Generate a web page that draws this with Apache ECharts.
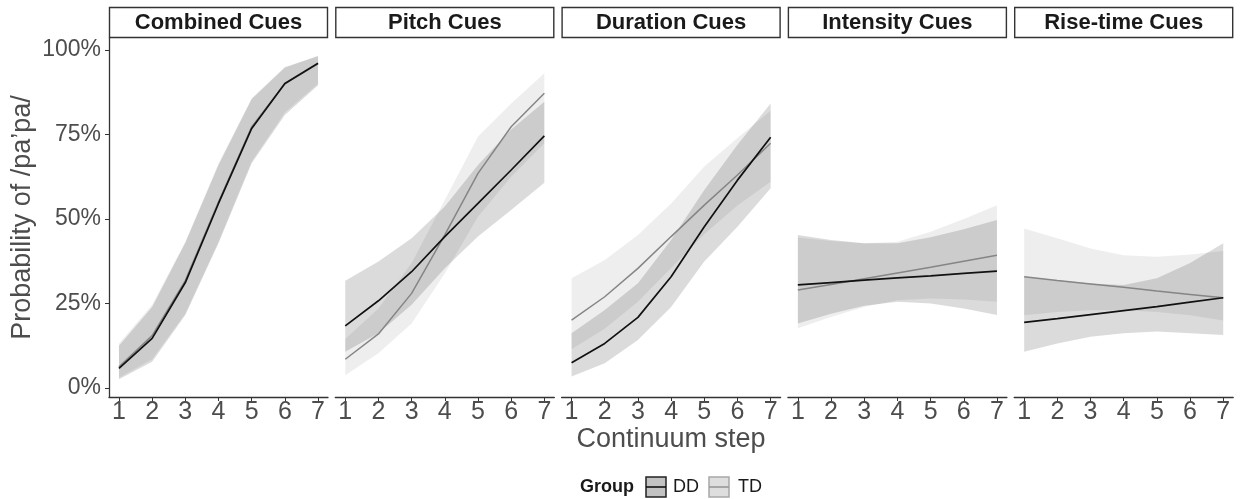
<!DOCTYPE html>
<html>
<head>
<meta charset="utf-8">
<script src="https://cdn.jsdelivr.net/npm/echarts@6/dist/echarts.min.js"></script>
<style>
html,body{margin:0;padding:0;background:#fff;}
#chart{width:1240px;height:499px;}
</style>
</head>
<body>
<div id="chart"></div>
<script>
// ---- data (values in %) ----
const steps = [1, 2, 3, 4, 5, 6, 7];
const panels = ['Combined Cues', 'Pitch Cues', 'Duration Cues', 'Intensity Cues', 'Rise-time Cues'];
const yTicks = [0, 25, 50, 75, 100];
const groups = ['DD', 'TD'];

// DD group: fitted line and ribbon bounds, one row per panel
const ddFit = [
  [5.8, 14.7, 31.2, 54.6, 76.8, 90.1, 96.1],
  [18.4, 25.8, 34.4, 44.8, 54.6, 64.5, 74.6],
  [7.5, 13.2, 20.9, 32.9, 47.7, 61.5, 74.2],
  [30.5, 31.2, 31.9, 32.6, 33.2, 33.9, 34.6],
  [19.4, 20.5, 21.7, 22.9, 24.1, 25.4, 26.7]
];
const ddLower = [
  [2.6, 7.8, 21.6, 42.8, 66.5, 80.8, 89.6],
  [10.7, 16.2, 24.6, 35.4, 44.8, 52.7, 60.7],
  [3.4, 7.3, 14.2, 24.0, 37.4, 47.7, 59.1],
  [19.1, 22.0, 24.3, 25.5, 25.0, 23.5, 21.6],
  [10.7, 13.2, 15.2, 16.2, 16.7, 16.2, 15.7]
];
const ddUpper = [
  [12.5, 24.0, 43.0, 66.0, 85.5, 94.8, 98.2],
  [31.7, 37.4, 44.3, 53.7, 66.0, 76.5, 84.7],
  [16.2, 23.1, 31.0, 43.8, 58.6, 72.0, 84.2],
  [45.3, 43.8, 42.8, 42.8, 44.6, 47.0, 49.7],
  [33.0, 31.9, 30.9, 30.5, 32.5, 37.0, 42.8]
];
// TD group
const tdFit = [
  [6.3, 15.5, 31.8, 55.0, 77.2, 90.0, 96.0],
  [8.5, 16.0, 28.0, 45.3, 63.5, 77.3, 87.2],
  [20.1, 27.0, 35.4, 44.8, 54.1, 63.0, 72.4],
  [29.0, 30.6, 32.3, 34.0, 35.7, 37.5, 39.3],
  [32.9, 31.8, 30.8, 29.8, 28.7, 27.7, 26.7]
];
const tdLower = [
  [3.0, 8.5, 22.0, 43.3, 67.0, 81.5, 90.0],
  [3.8, 10.3, 19.1, 33.9, 50.7, 62.5, 72.4],
  [11.5, 17.5, 25.5, 35.5, 45.5, 54.0, 61.0],
  [17.7, 21.0, 24.0, 26.0, 26.5, 26.2, 25.5],
  [21.5, 22.5, 23.0, 23.0, 22.5, 21.5, 20.0]
];
const tdUpper = [
  [13.2, 24.6, 43.3, 66.5, 85.7, 95.0, 98.2],
  [14.5, 23.5, 37.0, 55.6, 74.4, 84.2, 93.1],
  [32.5, 37.9, 45.3, 54.6, 65.5, 74.0, 82.0],
  [44.5, 43.5, 42.8, 43.3, 46.2, 50.0, 54.1],
  [47.2, 44.3, 41.3, 39.3, 38.8, 39.5, 40.5]
];

// ---- styling / layout ----
const FONT = '"Liberation Sans", Arial, Helvetica, sans-serif';
const PANEL_LEFT0 = 109, PANEL_STEP = 226.3, PANEL_W = 219;
const PANEL_TOP = 38, PANEL_H = 359;
const Y_MIN = -2.66, Y_MAX = 103.55;
const X_MIN = 0.7, X_MAX = 7.3;
const DD_LINE = '#111111', TD_LINE = '#858585';
const DD_FILL = 'rgba(0,0,0,0.14)', TD_FILL = 'rgba(0,0,0,0.065)';
const AXIS_COL = '#333333', LABEL_COL = '#4d4d4d';

const pairs = (arr) => steps.map((s, i) => [s, arr[i]]);

const grids = [], xAxes = [], yAxes = [], series = [], graphics = [];

function ribbonSeries(p, lo, up, fill) {
  return {
    type: 'custom', xAxisIndex: p, yAxisIndex: p, silent: true, z: 1,
    data: steps.map((s, i) => [s, lo[i], up[i]]),
    encode: { x: 0, y: [1, 2] },
    renderItem: (params, api) => {
      if (params.dataIndex !== 0) return null;
      const n = params.dataInsideLength;
      const top = [], bot = [];
      for (let i = 0; i < n; i++) {
        top.push(api.coord([api.value(0, i), api.value(2, i)]));
        bot.push(api.coord([api.value(0, i), api.value(1, i)]));
      }
      return { type: 'polygon', shape: { points: top.concat(bot.reverse()) }, style: { fill: fill } };
    }
  };
}

panels.forEach((name, p) => {
  const left = PANEL_LEFT0 + p * PANEL_STEP;
  grids.push({ left: left, top: PANEL_TOP, width: PANEL_W, height: PANEL_H, containLabel: false });
  xAxes.push({
    type: 'value', gridIndex: p, min: X_MIN, max: X_MAX,
    axisLine: { show: true, onZero: false, lineStyle: { color: AXIS_COL, width: 1.3 } },
    axisTick: { show: true, length: 4, customValues: steps, lineStyle: { color: AXIS_COL, width: 1 } },
    axisLabel: { show: true, customValues: steps, margin: 3, fontSize: 25, color: LABEL_COL, fontFamily: FONT },
    splitLine: { show: false }
  });
  yAxes.push({
    type: 'value', gridIndex: p, min: Y_MIN, max: Y_MAX,
    show: p === 0,
    name: p === 0 ? 'Probability of /pa\u2019pa/' : '',
    nameLocation: 'middle', nameRotate: 90, nameGap: 73,
    nameTextStyle: { fontSize: 27, color: LABEL_COL, fontFamily: FONT },
    axisLine: { show: true, onZero: false, lineStyle: { color: AXIS_COL, width: 1.3 } },
    axisTick: { show: true, length: 4, customValues: yTicks, lineStyle: { color: AXIS_COL, width: 1 } },
    axisLabel: { show: true, customValues: yTicks, margin: 8, fontSize: 23, color: LABEL_COL, fontFamily: FONT,
      formatter: (v) => v + '%' },
    splitLine: { show: false }
  });

  series.push(ribbonSeries(p, ddLower[p], ddUpper[p], DD_FILL));
  series.push(ribbonSeries(p, tdLower[p], tdUpper[p], TD_FILL));
  series.push({
    name: 'TD', type: 'line', xAxisIndex: p, yAxisIndex: p, data: pairs(tdFit[p]),
    symbol: 'none', smooth: false, lineStyle: { color: TD_LINE, width: 1.5 }, z: 3
  });
  series.push({
    name: 'DD', type: 'line', xAxisIndex: p, yAxisIndex: p, data: pairs(ddFit[p]),
    symbol: 'none', smooth: false, lineStyle: { color: DD_LINE, width: 1.7 }, z: 4
  });

  graphics.push({
    type: 'rect', shape: { x: left + 0.5, y: 7.5, width: PANEL_W - 1, height: 30 },
    style: { fill: '#ffffff', stroke: '#333333', lineWidth: 1.4 }, silent: true
  });
  graphics.push({
    type: 'text', x: left + PANEL_W / 2, y: 23,
    style: { text: name, font: 'bold 22px ' + FONT, fill: '#1a1a1a', textAlign: 'center', textVerticalAlign: 'middle' },
    silent: true
  });
});

graphics.push({
  type: 'text', x: 671, y: 440,
  style: { text: 'Continuum step', font: '27px ' + FONT, fill: LABEL_COL, textAlign: 'center', textVerticalAlign: 'middle' }
});

graphics.push({ type: 'text', x: 580, y: 487,
  style: { text: 'Group', font: 'bold 18px ' + FONT, fill: '#1a1a1a', textAlign: 'left', textVerticalAlign: 'middle' } });
const legendKeys = [
  { label: groups[0], x: 646, fill: '#c2c2c2', stroke: '#222222', line: DD_LINE, tx: 673 },
  { label: groups[1], x: 709, fill: '#dedede', stroke: '#a8a8a8', line: '#999999', tx: 738 }
];
legendKeys.forEach(k => {
  graphics.push({ type: 'rect', shape: { x: k.x, y: 477, width: 20, height: 20 },
    style: { fill: k.fill, stroke: k.stroke, lineWidth: 1.5 } });
  graphics.push({ type: 'line', shape: { x1: k.x, y1: 487, x2: k.x + 20, y2: 487 },
    style: { stroke: k.line, lineWidth: 1.6 } });
  graphics.push({ type: 'text', x: k.tx, y: 487,
    style: { text: k.label, font: '18px ' + FONT, fill: '#1a1a1a', textAlign: 'left', textVerticalAlign: 'middle' } });
});

const chart = echarts.init(document.getElementById('chart'), null, { renderer: 'canvas' });
chart.setOption({
  animation: false,
  backgroundColor: '#ffffff',
  grid: grids,
  xAxis: xAxes,
  yAxis: yAxes,
  series: series,
  graphic: graphics
});
</script>
</body>
</html>
